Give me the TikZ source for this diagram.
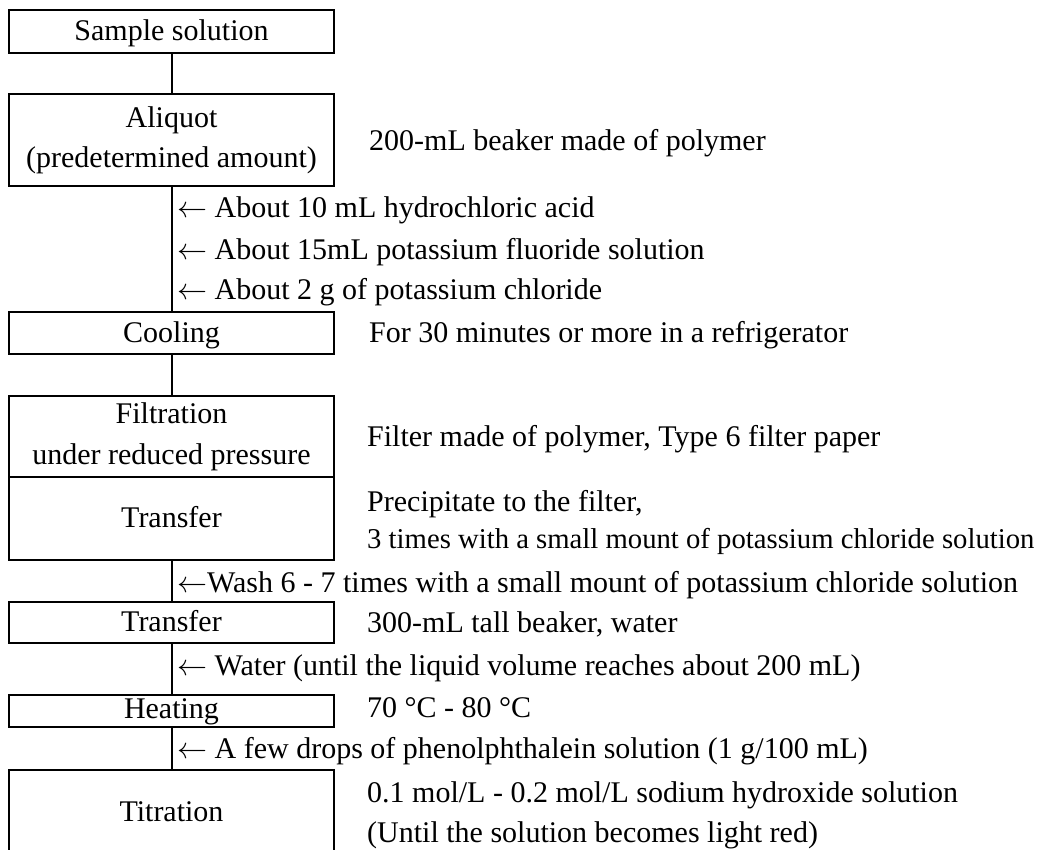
\documentclass[tikz,border=0pt]{standalone}
\usepackage{fix-cm}
\usepackage{fontspec}
\setmainfont{Liberation Serif}
\newcommand{\larr}{$\leftarrow$}
\begin{document}
\begin{tikzpicture}[x=1pt,y=-1pt,
  box/.style={draw, line width=2pt, minimum width=325pt, inner sep=0pt, outer sep=0pt, align=center, font=\fontsize{30}{40}\selectfont},
  one/.style={text height=21pt, text depth=3pt},
  lbl/.style={anchor=base west, inner sep=0pt, font=\fontsize{30}{40}\selectfont},
  link/.style={line width=2pt}]
\fill[white] (0,0) rectangle (1043,849);
\useasboundingbox (0,0) rectangle (1043,849);
% process boxes
\node[box, one, minimum height=43pt] (sample) at (171.5,31) {Sample solution};
\node[box, minimum height=92pt] (aliq) at (171.5,140) {Aliquot\\(predetermined amount)};
\node[box, one, minimum height=42pt] (cool) at (171.5,333) {Cooling};
\node[box, minimum height=81pt, font=\fontsize{30}{41}\selectfont] (filt) at (171.5,436.5) {Filtration\\under reduced pressure};
\node[box, one, minimum height=83pt] (trans1) at (171.5,518.5) {Transfer};
\node[box, one, minimum height=41pt] (trans2) at (171.5,622.5) {Transfer};
\node[box, one, text depth=7pt, minimum height=32pt] (heat) at (171.5,711) {Heating};
\node[box, one, draw=none, minimum height=84pt] (titr) at (171.5,812) {Titration};
\draw[link] (titr.south west) |- (titr.north east) -- (titr.south east);
% connectors
\draw[link] (sample.south) -- (aliq.north);
\draw[link] (aliq.south) -- (cool.north);
\draw[link] (cool.south) -- (filt.north);
\draw[link] (trans1.south) -- (trans2.north);
\draw[link] (trans2.south) -- (heat.north);
\draw[link] (heat.south) -- (titr.north);
% side labels
\node[lbl] (t1) at (369,150) {200-mL beaker made of polymer};
\node[lbl] (a1) at (177,217) {\larr{} About 10 mL hydrochloric acid};
\node[lbl] (a2) at (177,259) {\larr{} About 15mL potassium fluoride solution};
\node[lbl] (a3) at (177,299) {\larr{} About 2 g of potassium chloride};
\node[lbl] (t2) at (369,342) {For 30 minutes or more in a refrigerator};
\node[lbl] (t3) at (367,446) {Filter made of polymer, Type 6 filter paper};
\node[lbl] (t4) at (367,511) {Precipitate to the filter,};
\node[lbl, font=\fontsize{28.7}{40}\selectfont] (t5) at (367,548) {3 times with a small mount of potassium chloride solution};
\node[lbl] (a4) at (177,592) {\larr{}Wash 6 - 7 times with a small mount of potassium chloride solution};
\node[lbl] (t6) at (367,632) {300-mL tall beaker, water};
\node[lbl] (a5) at (177,675) {\larr{} Water (until the liquid volume reaches about 200 mL)};
\node[lbl] (t7) at (367,717) {70 °C - 80 °C};
\node[lbl] (a6) at (177,758) {\larr{} A few drops of phenolphthalein solution (1 g/100 mL)};
\node[lbl] (t8) at (367,802) {0.1 mol/L - 0.2 mol/L sodium hydroxide solution};
\node[lbl] (t9) at (367,842) {(Until the solution becomes light red)};
\end{tikzpicture}
\end{document}
